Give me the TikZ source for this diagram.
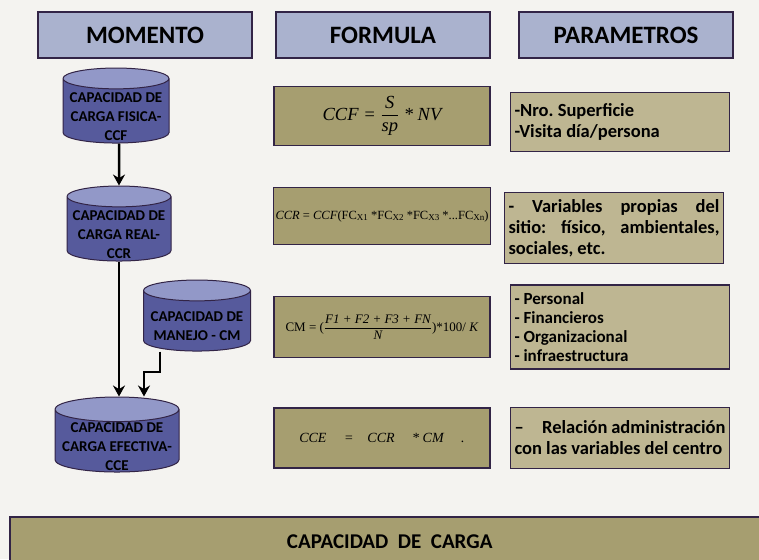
\documentclass[tikz,border=0pt]{standalone}
\usepackage{fontspec}
\setmainfont{Carlito}
\newfontfamily\formfont{Liberation Serif}
\usepackage{amsmath}
\usetikzlibrary{shapes.geometric, arrows.meta}

\definecolor{fondo}{RGB}{244,243,240}
\definecolor{cabecera}{RGB}{170,178,206}
\definecolor{oliva}{RGB}{166,158,112}
\definecolor{olivaclaro}{RGB}{190,182,146}
\definecolor{cuerpo}{RGB}{86,90,156}
\definecolor{tapa}{RGB}{146,152,200}
\definecolor{borde}{RGB}{50,36,70}

\begin{document}
\begin{tikzpicture}[x=1pt, y=-1pt]
        \tikzstyle{every node} = [font=\bfseries]
        \tikzstyle{cab}  = [draw=borde, line width=1.5pt, fill=cabecera, minimum width=214pt, minimum height=46pt, font=\fontsize{25}{27}\selectfont\bfseries]
        \tikzstyle{formula} = [draw=borde, line width=1.5pt, fill=oliva, minimum width=216pt, inner sep=2pt, font=\formfont\fontsize{13}{15}\selectfont]
        \tikzstyle{param} = [draw=borde, line width=1.5pt, fill=olivaclaro, minimum width=219pt, text width=211pt, inner sep=4pt, align=justify, font=\fontsize{18.5}{21}\selectfont\bfseries\frenchspacing]
        \tikzstyle{cil} = [cylinder, shape border rotate=90, aspect=0.22, draw=borde, line width=1pt, cylinder uses custom fill, cylinder body fill=cuerpo, cylinder end fill=tapa, inner sep=1pt, font=\fontsize{15}{19}\selectfont\bfseries]
        \tikzstyle{flecha} = [line width=2.5pt, -{Stealth[length=11pt, width=12pt]}]

        \def\cilt#1{\smash{\raisebox{-9pt}{\begin{tabular}{@{}c@{}}#1\end{tabular}}}}
        \def\fc#1{FC\raisebox{-1pt}{\fontsize{9}{9}\selectfont X#1}}

        \fill[fondo] (0,0) rectangle (759,559);
        \useasboundingbox (0,0) rectangle (759,559);

        % cabeceras
        \foreach \x/\nombre/\texto in {145/momento/MOMENTO, 383/formula/FORMULA, 626/parametros/PARAMETROS}
            \node[cab] (\nombre) at (\x,35) {\texto};

        % momentos
        \node[cil, minimum width=106pt, minimum height=75pt] (ccf) at (116,112) {\cilt{CAPACIDAD DE\\CARGA FISICA-\\CCF}};
        \node[cil, minimum width=104pt, minimum height=75pt] (ccr) at (119,230) {\cilt{CAPACIDAD DE\\CARGA REAL-\\CCR}};
        \node[cil, minimum width=107pt, minimum height=71pt] (cm) at (197,322) {\cilt{CAPACIDAD DE\\MANEJO - CM}};
        \node[cil, minimum width=124pt, minimum height=75pt] (cce) at (117,442) {\cilt{CAPACIDAD DE\\CARGA EFECTIVA-\\CCE}};

        \coordinate (codo) at (144,372);
        \draw[flecha] (ccf.south -| ccr.south) -- (ccr.north);
        \draw[flecha] (ccr.south) -- (ccr.south |- cce.north);
        \draw[flecha] ([xshift=-37pt]cm.south) |- (codo) -- (codo |- cce.north);

        % formulas
        \node[formula, minimum height=59pt, font=\formfont\fontsize{18.5}{20}\selectfont\itshape] (fccf) at (382,116) {CCF = $\dfrac{\text{S}}{\text{sp}}$ * NV};
        \node[formula, minimum height=57pt, font=\formfont\fontsize{12.5}{15}\selectfont] (fccr) at (382,216) {\textit{CCR} = \textit{CCF}(\fc{1} *\fc{2} *\fc{3} *...\fc{n})};
        \node[formula, minimum height=61pt] (fcm) at (382,327) {CM = ($\dfrac{\text{\itshape F1 + F2 + F3 + FN}}{\text{\itshape N}}$)*100/ \textit{K}};
        \node[formula, minimum height=60pt, font=\formfont\fontsize{14}{16}\selectfont\itshape] (fcce) at (382,438) {CCE\quad\ =\quad CCR\quad\ *\ CM\quad\ .};

        % parametros
        \node[param, minimum height=59pt] (pccf) at (620,122) {-Nro. Superficie\\-Visita día/persona};
        \node[param, minimum height=71pt] (pccr) at (614,228) {- Variables propias del\linebreak sitio: físico, ambientales,\linebreak sociales, etc.};
        \node[param, minimum height=84pt, font=\fontsize{17}{19}\selectfont\bfseries] (pcm) at (620,327) {- Personal\\- Financieros\\- Organizacional\\- infraestructura};
        \node[param, minimum height=61pt] (pcce) at (620,438) {--\quad Relación administración\linebreak con las variables del centro};

        % pie
        \node[draw=borde, line width=1.5pt, fill=oliva, anchor=north west, minimum width=760pt, minimum height=50pt, font=\fontsize{21}{23}\selectfont\bfseries] (carga) at (9,516) {CAPACIDAD\ \ DE\ \ CARGA};
    \end{tikzpicture}
\end{document}
